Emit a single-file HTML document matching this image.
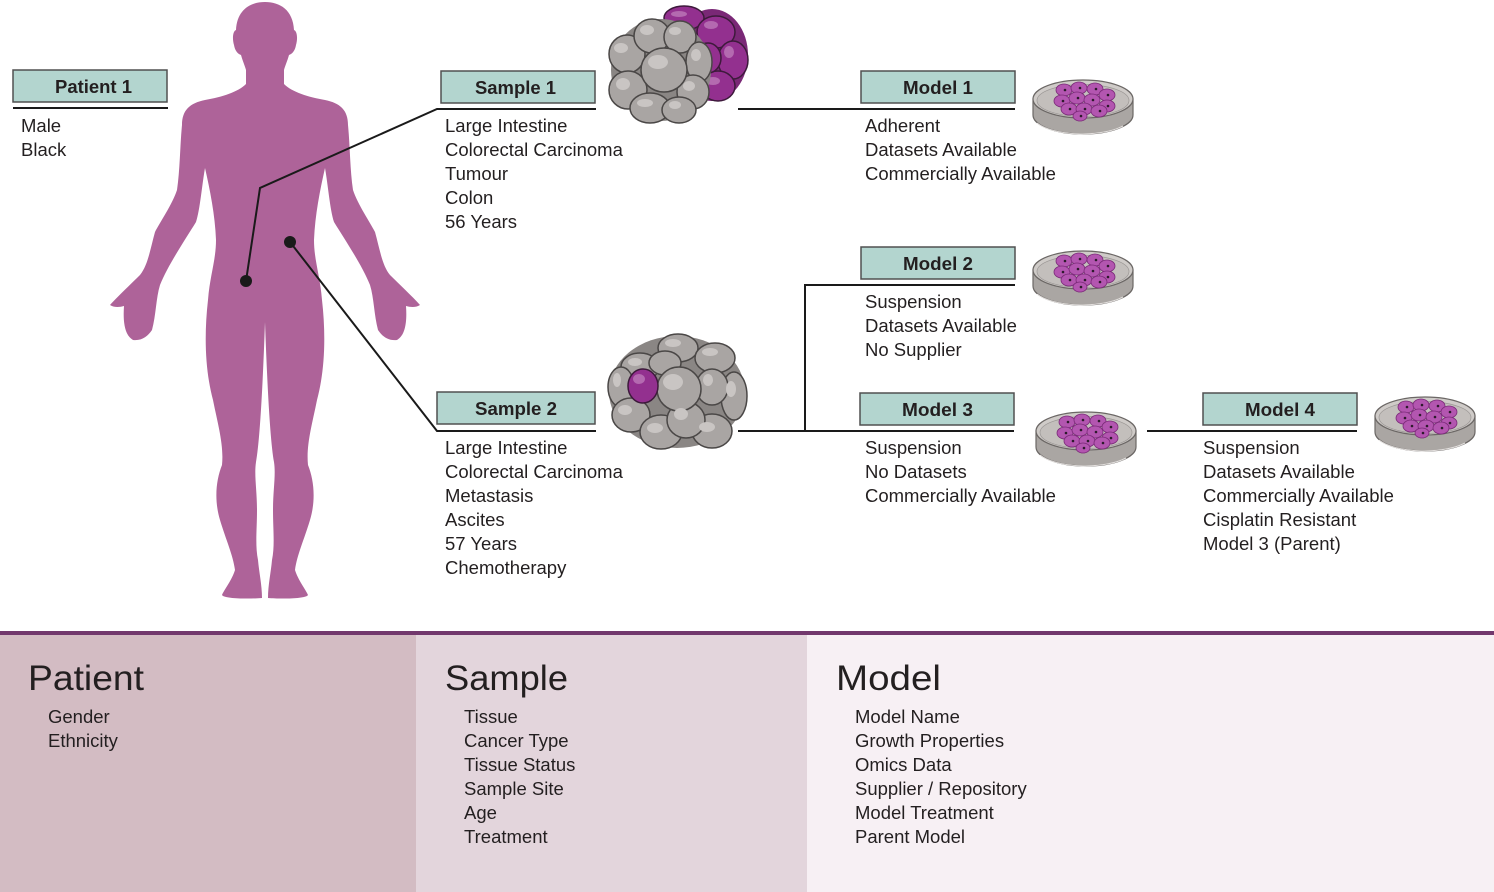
<!DOCTYPE html>
<html>
<head>
<meta charset="utf-8">
<style>
html,body{margin:0;padding:0;background:#fff;}
svg{display:block;}
text{font-family:"Liberation Sans",Arial,sans-serif;fill:#231f20;}
.t{font-size:18.5px;}
.h{font-size:18px;font-weight:bold;}
.big{font-size:35px;}
</style>
</head>
<body>
<svg width="1494" height="892" viewBox="0 0 1494 892" xmlns="http://www.w3.org/2000/svg">
<defs>
  <g id="dish">
    <path d="M-50,0 L-50,16 A50,19 0 0 0 50,16 L50,0 Z" fill="#aaa6a3" stroke="#6b6765" stroke-width="1.2"/>
    <path d="M-46,24 A50,19 0 0 0 40,27" fill="none" stroke="#e4e1df" stroke-width="1"/>
    <ellipse cx="0" cy="0" rx="50" ry="19" fill="#cfcbc8" stroke="#6b6765" stroke-width="1.2"/>
    <ellipse cx="0" cy="1.5" rx="46" ry="16" fill="#c3bfbc" stroke="#9a9694" stroke-width="0.7"/>
    <g fill="#b356b0" stroke="#7a2a78" stroke-width="0.8">
      <ellipse cx="-19" cy="-9" rx="8" ry="6"/>
      <ellipse cx="-4" cy="-11" rx="8" ry="6"/>
      <ellipse cx="12" cy="-10" rx="8" ry="6"/>
      <ellipse cx="24" cy="-4" rx="8" ry="6"/>
      <ellipse cx="-21" cy="2" rx="8" ry="6"/>
      <ellipse cx="-6" cy="-1" rx="8" ry="6"/>
      <ellipse cx="9" cy="1" rx="8" ry="6"/>
      <ellipse cx="24" cy="7" rx="8" ry="6"/>
      <ellipse cx="-14" cy="10" rx="8" ry="6"/>
      <ellipse cx="1" cy="10" rx="8" ry="6"/>
      <ellipse cx="16" cy="12" rx="8" ry="6"/>
      <ellipse cx="-3" cy="17" rx="7" ry="5"/>
    </g>
    <g fill="#2d1a2c">
      <circle cx="-18" cy="-9" r="1.3"/><circle cx="-3" cy="-11" r="1.3"/><circle cx="13" cy="-10" r="1.3"/>
      <circle cx="25" cy="-4" r="1.3"/><circle cx="-20" cy="2" r="1.3"/><circle cx="-5" cy="-1" r="1.3"/>
      <circle cx="10" cy="1" r="1.3"/><circle cx="25" cy="7" r="1.3"/><circle cx="-13" cy="10" r="1.3"/>
      <circle cx="2" cy="10" r="1.3"/><circle cx="17" cy="12" r="1.3"/><circle cx="-2" cy="17" r="1.3"/>
    </g>
  </g>
</defs>

<!-- Bottom panels -->
<rect x="0" y="635" width="416" height="257" fill="#d3bcc3"/>
<rect x="416" y="635" width="391" height="257" fill="#e3d5dc"/>
<rect x="807" y="635" width="687" height="257" fill="#f7f0f4"/>
<rect x="0" y="631" width="1494" height="4" fill="#72386d"/>

<text class="big" x="28" y="690" textLength="116" lengthAdjust="spacingAndGlyphs">Patient</text>
<text class="t" x="48" y="723">Gender</text>
<text class="t" x="48" y="747">Ethnicity</text>

<text class="big" x="445" y="690" textLength="123" lengthAdjust="spacingAndGlyphs">Sample</text>
<text class="t" x="464" y="723">Tissue</text>
<text class="t" x="464" y="747">Cancer Type</text>
<text class="t" x="464" y="771">Tissue Status</text>
<text class="t" x="464" y="795">Sample Site</text>
<text class="t" x="464" y="819">Age</text>
<text class="t" x="464" y="843">Treatment</text>

<text class="big" x="836" y="690" textLength="105" lengthAdjust="spacingAndGlyphs">Model</text>
<text class="t" x="855" y="723">Model Name</text>
<text class="t" x="855" y="747">Growth Properties</text>
<text class="t" x="855" y="771">Omics Data</text>
<text class="t" x="855" y="795">Supplier / Repository</text>
<text class="t" x="855" y="819">Model Treatment</text>
<text class="t" x="855" y="843">Parent Model</text>

<!-- Body -->
<path fill="#ae6399" d="M265,2
C250,2 237,10 236,30
C233,31 232,38 234,45
C235,51 238,54 241,55
C243,62 245,66 246,70
L246,84
C238,92 222,97 205,100
C190,103 182,110 182,125
C180,145 180,170 177,190
C172,205 160,222 155,232
C150,250 148,265 140,275
C130,285 118,296 110,305
C115,308 120,307 124,306
C123,320 124,335 133,340
C142,341 148,336 152,330
C156,315 156,298 160,285
C168,265 185,240 196,222
C200,210 202,185 205,168
C210,190 215,215 216,240
C216,260 210,275 208,300
C204,335 205,370 213,400
C218,425 224,445 222,465
C216,480 214,500 220,520
C226,540 233,555 235,570
C232,580 224,590 222,595
C224,599 250,599 262,598
C262,585 259,572 258,560
C255,545 257,530 257,510
C257,490 254,475 256,462
C260,440 263,380 265,322
C267,380 270,440 274,462
C276,475 273,490 273,510
C273,530 275,545 272,560
C271,572 268,585 268,598
C280,599 306,599 308,595
C306,590 298,580 295,570
C297,555 304,540 310,520
C316,500 314,480 308,465
C306,445 312,425 317,400
C325,370 326,335 322,300
C320,275 314,260 314,240
C315,215 320,190 325,168
C328,185 330,210 334,222
C345,240 362,265 370,285
C374,298 374,315 378,330
C382,336 388,341 397,340
C406,335 407,320 406,306
C410,307 415,308 420,305
C412,296 400,285 390,275
C382,265 380,250 375,232
C370,222 358,205 353,190
C350,170 350,145 348,125
C348,110 340,103 325,100
C308,97 292,92 284,84
L284,70
C285,66 287,62 289,55
C292,54 295,51 296,45
C298,38 297,31 294,30
C293,10 280,2 265,2 Z"/>

<!-- Connectors -->
<g stroke="#1a1a1a" stroke-width="2" fill="none">
  <polyline points="246,281 260,188 437,109 596,109"/>
  <polyline points="290,242 437,431 596,431"/>
  <line x1="13" y1="108" x2="168" y2="108"/>
  <line x1="738" y1="109" x2="1015" y2="109"/>
  <polyline points="1015,285 805,285 805,431"/>
  <line x1="738" y1="431" x2="1014" y2="431"/>
  <line x1="1147" y1="431" x2="1357" y2="431"/>
</g>
<circle cx="246" cy="281" r="6" fill="#1a1a1a"/>
<circle cx="290" cy="242" r="6" fill="#1a1a1a"/>

<!-- Header boxes -->
<g fill="#b3d5cf" stroke="#505050" stroke-width="1.5">
  <rect x="13" y="70" width="154" height="32"/>
  <rect x="441" y="71" width="154" height="32"/>
  <rect x="861" y="71" width="154" height="32"/>
  <rect x="861" y="247" width="154" height="32"/>
  <rect x="437" y="392" width="158" height="32"/>
  <rect x="860" y="393" width="154" height="32"/>
  <rect x="1203" y="393" width="154" height="32"/>
</g>
<text class="h" x="55" y="93" textLength="77" lengthAdjust="spacingAndGlyphs">Patient 1</text>
<text class="h" x="475" y="94" textLength="81" lengthAdjust="spacingAndGlyphs">Sample 1</text>
<text class="h" x="903" y="94" textLength="70" lengthAdjust="spacingAndGlyphs">Model 1</text>
<text class="h" x="903" y="270" textLength="70" lengthAdjust="spacingAndGlyphs">Model 2</text>
<text class="h" x="475" y="415" textLength="82" lengthAdjust="spacingAndGlyphs">Sample 2</text>
<text class="h" x="902" y="416" textLength="71" lengthAdjust="spacingAndGlyphs">Model 3</text>
<text class="h" x="1245" y="416" textLength="70" lengthAdjust="spacingAndGlyphs">Model 4</text>

<!-- Body texts -->
<text class="t" x="21" y="132">Male</text>
<text class="t" x="21" y="156">Black</text>

<text class="t" x="445" y="132">Large Intestine</text>
<text class="t" x="445" y="156">Colorectal Carcinoma</text>
<text class="t" x="445" y="180">Tumour</text>
<text class="t" x="445" y="204">Colon</text>
<text class="t" x="445" y="228">56 Years</text>

<text class="t" x="865" y="132">Adherent</text>
<text class="t" x="865" y="156">Datasets Available</text>
<text class="t" x="865" y="180">Commercially Available</text>

<text class="t" x="865" y="308">Suspension</text>
<text class="t" x="865" y="332">Datasets Available</text>
<text class="t" x="865" y="356">No Supplier</text>

<text class="t" x="445" y="454">Large Intestine</text>
<text class="t" x="445" y="478">Colorectal Carcinoma</text>
<text class="t" x="445" y="502">Metastasis</text>
<text class="t" x="445" y="526">Ascites</text>
<text class="t" x="445" y="550">57 Years</text>
<text class="t" x="445" y="574">Chemotherapy</text>

<text class="t" x="865" y="454">Suspension</text>
<text class="t" x="865" y="478">No Datasets</text>
<text class="t" x="865" y="502">Commercially Available</text>

<text class="t" x="1203" y="454">Suspension</text>
<text class="t" x="1203" y="478">Datasets Available</text>
<text class="t" x="1203" y="502">Commercially Available</text>
<text class="t" x="1203" y="526">Cisplatin Resistant</text>
<text class="t" x="1203" y="550">Model 3 (Parent)</text>

<!-- Tumour 1 -->
<g>
  <ellipse cx="712" cy="55" rx="36" ry="46" fill="#7a2876"/>
  <g fill="#93308f" stroke="#3d1a3b" stroke-width="1.5">
    <ellipse cx="684" cy="18" rx="20" ry="12"/>
    <ellipse cx="716" cy="32" rx="19" ry="16"/>
    <ellipse cx="733" cy="60" rx="15" ry="19"/>
    <ellipse cx="718" cy="86" rx="17" ry="15"/>
    <ellipse cx="708" cy="58" rx="13" ry="15"/>
  </g>
  <g fill="#b46ab0">
    <ellipse cx="679" cy="14" rx="8" ry="3"/>
    <ellipse cx="711" cy="25" rx="7" ry="4"/>
    <ellipse cx="729" cy="52" rx="5" ry="6"/>
    <ellipse cx="713" cy="81" rx="7" ry="4"/>
  </g>
  <ellipse cx="661" cy="70" rx="50" ry="51" fill="#8a8684"/>
  <g fill="#a9a5a3" stroke="#4a4746" stroke-width="1.5">
    <ellipse cx="627" cy="54" rx="18" ry="19"/>
    <ellipse cx="652" cy="36" rx="18" ry="17"/>
    <ellipse cx="680" cy="37" rx="16" ry="16"/>
    <ellipse cx="699" cy="62" rx="13" ry="20"/>
    <ellipse cx="628" cy="90" rx="19" ry="19"/>
    <ellipse cx="693" cy="92" rx="16" ry="17"/>
    <ellipse cx="650" cy="108" rx="20" ry="15"/>
    <ellipse cx="679" cy="110" rx="17" ry="13"/>
    <ellipse cx="664" cy="70" rx="23" ry="22"/>
  </g>
  <g fill="#c9c5c3">
    <ellipse cx="621" cy="48" rx="7" ry="5"/>
    <ellipse cx="647" cy="30" rx="7" ry="5"/>
    <ellipse cx="675" cy="31" rx="6" ry="4"/>
    <ellipse cx="696" cy="55" rx="5" ry="6"/>
    <ellipse cx="623" cy="84" rx="7" ry="6"/>
    <ellipse cx="689" cy="86" rx="6" ry="5"/>
    <ellipse cx="645" cy="103" rx="8" ry="4"/>
    <ellipse cx="675" cy="105" rx="6" ry="4"/>
    <ellipse cx="658" cy="62" rx="10" ry="7"/>
  </g>
</g>

<!-- Tumour 2 -->
<g>
  <ellipse cx="677" cy="392" rx="68" ry="56" fill="#8a8684"/>
  <g fill="#a9a5a3" stroke="#4a4746" stroke-width="1.5">
    <ellipse cx="678" cy="348" rx="20" ry="14"/>
    <ellipse cx="715" cy="358" rx="20" ry="15"/>
    <ellipse cx="640" cy="367" rx="19" ry="14"/>
    <ellipse cx="665" cy="363" rx="16" ry="12"/>
    <ellipse cx="621" cy="387" rx="13" ry="20"/>
    <ellipse cx="734" cy="396" rx="13" ry="24"/>
    <ellipse cx="712" cy="387" rx="16" ry="18"/>
    <ellipse cx="631" cy="415" rx="19" ry="17"/>
    <ellipse cx="661" cy="432" rx="21" ry="17"/>
    <ellipse cx="712" cy="431" rx="20" ry="17"/>
    <ellipse cx="686" cy="420" rx="19" ry="18"/>
    <ellipse cx="679" cy="389" rx="22" ry="22"/>
  </g>
  <ellipse cx="643" cy="386" rx="15" ry="17" fill="#93308f" stroke="#3d1a3b" stroke-width="1.5"/>
  <ellipse cx="639" cy="379" rx="6" ry="5" fill="#b46ab0"/>
  <g fill="#c9c5c3">
    <ellipse cx="673" cy="343" rx="8" ry="4"/>
    <ellipse cx="710" cy="352" rx="8" ry="4"/>
    <ellipse cx="635" cy="362" rx="7" ry="4"/>
    <ellipse cx="617" cy="380" rx="4" ry="7"/>
    <ellipse cx="731" cy="389" rx="5" ry="8"/>
    <ellipse cx="708" cy="380" rx="5" ry="6"/>
    <ellipse cx="625" cy="410" rx="7" ry="5"/>
    <ellipse cx="655" cy="428" rx="8" ry="5"/>
    <ellipse cx="707" cy="427" rx="8" ry="5"/>
    <ellipse cx="681" cy="414" rx="7" ry="6"/>
    <ellipse cx="673" cy="382" rx="10" ry="8"/>
  </g>
</g>

<!-- Petri dishes -->
<use href="#dish" transform="translate(1083,99)"/>
<use href="#dish" transform="translate(1083,270)"/>
<use href="#dish" transform="translate(1086,431)"/>
<use href="#dish" transform="translate(1425,416)"/>
</svg>
</body>
</html>
